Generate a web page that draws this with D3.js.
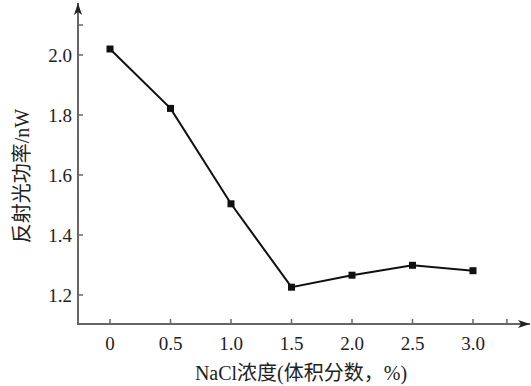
<!DOCTYPE html>
<html><head><meta charset="utf-8">
<script src="https://cdn.jsdelivr.net/npm/d3@7"></script>
<style>body{margin:0;background:#fff}svg{display:block}</style>
</head><body>
<script>
const concentrations = [0, 0.5, 1.0, 1.5, 2.0, 2.5, 3.0];
const power = [2.02, 1.822, 1.504, 1.226, 1.266, 1.299, 1.281];
const xTickValues = [0, 0.5, 1.0, 1.5, 2.0, 2.5, 3.0];
const xTickLabels = ["0", "0.5", "1.0", "1.5", "2.0", "2.5", "3.0"];
const xExtraTicks = [3.28];
const yTickValues = [1.2, 1.4, 1.6, 1.8, 2.0];
const yTickLabels = ["1.2", "1.4", "1.6", "1.8", "2.0"];
const yExtraTicks = [2.1];
const xTitle = "NaCl浓度(体积分数，%)";
const yTitle = "反射光功率/nW";

const W = 531, H = 386;
const svg = d3.select("body").append("svg").attr("width", W).attr("height", H);
const font = "'Liberation Serif','Times New Roman','Noto Sans CJK SC',serif";
const axisColor = "#666";

const x = d3.scaleLinear().domain([0, 3.0]).range([110, 473]);
const y = d3.scaleLinear().domain([1.2, 2.0]).range([295, 55]);
const x0 = 78, yAxisY = 324;

// arrow marker
const defs = svg.append("defs");
defs.append("marker").attr("id", "arr").attr("viewBox", "0 0 12 8")
  .attr("refX", 12).attr("refY", 4).attr("markerWidth", 12).attr("markerHeight", 8)
  .attr("markerUnits", "userSpaceOnUse").attr("orient", "auto")
  .append("path").attr("d", "M0,0 L12,4 L0,8 L3,4 Z").attr("fill", "#222");

// axes lines
svg.append("line").attr("x1", x0).attr("y1", yAxisY).attr("x2", x0).attr("y2", 3)
  .attr("stroke", axisColor).attr("stroke-width", 2).attr("marker-end", "url(#arr)");
svg.append("line").attr("x1", x0 - 1).attr("y1", yAxisY).attr("x2", 530).attr("y2", yAxisY)
  .attr("stroke", axisColor).attr("stroke-width", 2).attr("marker-end", "url(#arr)");

// y ticks
const yAll = yTickValues.concat(yExtraTicks);
svg.selectAll(".yt").data(yAll).enter().append("line")
  .attr("x1", x0).attr("x2", x0 + 5).attr("y1", d => y(d)).attr("y2", d => y(d))
  .attr("stroke", axisColor).attr("stroke-width", 1.5);
svg.selectAll(".yl").data(yTickValues).enter().append("text")
  .attr("x", 72).attr("y", d => y(d)).attr("dy", "0.35em")
  .attr("text-anchor", "end").attr("font-family", font).attr("font-size", 19)
  .attr("fill", "#222").text((d, i) => yTickLabels[i]);

// x ticks
const xAll = xTickValues.concat(xExtraTicks);
svg.selectAll(".xt").data(xAll).enter().append("line")
  .attr("x1", d => x(d)).attr("x2", d => x(d)).attr("y1", yAxisY).attr("y2", yAxisY - 5)
  .attr("stroke", axisColor).attr("stroke-width", 1.5);
svg.selectAll(".xl").data(xTickValues).enter().append("text")
  .attr("x", d => x(d)).attr("y", 350)
  .attr("text-anchor", "middle").attr("font-family", font).attr("font-size", 19)
  .attr("fill", "#222").text((d, i) => xTickLabels[i]);

// titles
svg.append("text").attr("x", 301).attr("y", 380).attr("text-anchor", "middle")
  .attr("font-family", font).attr("font-size", 20).attr("fill", "#222").text(xTitle);
svg.append("text").attr("transform", "translate(29,176) rotate(-90)")
  .attr("text-anchor", "middle").attr("font-family", font).attr("font-size", 20)
  .attr("fill", "#222").text(yTitle);

// line
const pts = concentrations.map((c, i) => [c, power[i]]);
svg.append("path").datum(pts)
  .attr("d", d3.line().x(d => x(d[0])).y(d => y(d[1])))
  .attr("fill", "none").attr("stroke", "#111").attr("stroke-width", 2);
svg.selectAll(".pt").data(pts).enter().append("rect")
  .attr("x", d => x(d[0]) - 3.5).attr("y", d => y(d[1]) - 3.5)
  .attr("width", 7).attr("height", 7).attr("fill", "#111");
</script>
</body></html>
